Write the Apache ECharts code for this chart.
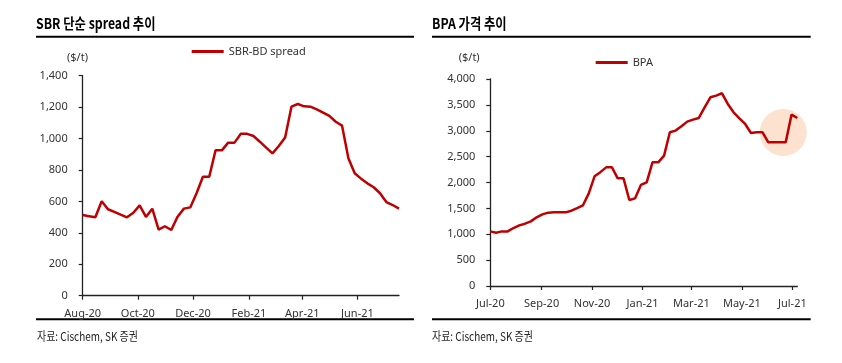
<!DOCTYPE html>
<html>
<head>
<meta charset="utf-8">
<script src="https://cdn.jsdelivr.net/npm/echarts@6/dist/echarts.min.js"></script>
<style>
html,body{margin:0;padding:0;background:#fff;}
#c{width:842px;height:363px;}
</style>
</head>
<body>
<div id="c"></div>
<script>
// ---- Data ----
const sbrDates = ['2020-08-01','2020-08-08','2020-08-15','2020-08-22','2020-08-29','2020-09-05','2020-09-12','2020-09-19','2020-09-26','2020-10-03','2020-10-10','2020-10-17','2020-10-24','2020-10-31','2020-11-07','2020-11-14','2020-11-21','2020-11-28','2020-12-05','2020-12-12','2020-12-19','2020-12-26','2021-01-02','2021-01-09','2021-01-16','2021-01-23','2021-01-30','2021-02-06','2021-02-13','2021-02-20','2021-02-27','2021-03-06','2021-03-13','2021-03-20','2021-03-27','2021-04-03','2021-04-10','2021-04-17','2021-04-24','2021-05-01','2021-05-08','2021-05-15','2021-05-22','2021-05-29','2021-06-05','2021-06-12','2021-06-19','2021-06-26','2021-07-03','2021-07-10','2021-07-17'];
const sbrSpread = [513,506,499,601,550,533,516,499,528,575,501,554,420,442,418,503,554,562,652,757,757,925,925,974,974,1030,1030,1016,980,942,906,953,1006,1203,1220,1205,1203,1186,1165,1144,1107,1082,875,779,745,715,690,652,596,577,554];
const sbrTickDates = ['2020-08-01','2020-10-01','2020-12-01','2021-02-01','2021-04-01','2021-06-01'];
const sbrTickLabels = ['Aug-20','Oct-20','Dec-20','Feb-21','Apr-21','Jun-21'];

const bpaDates = ['2020-07-01','2020-07-08','2020-07-15','2020-07-22','2020-07-29','2020-08-05','2020-08-12','2020-08-19','2020-08-26','2020-09-02','2020-09-09','2020-09-16','2020-09-23','2020-09-30','2020-10-07','2020-10-14','2020-10-21','2020-10-28','2020-11-04','2020-11-11','2020-11-18','2020-11-25','2020-12-02','2020-12-09','2020-12-16','2020-12-23','2020-12-30','2021-01-06','2021-01-13','2021-01-20','2021-01-27','2021-02-03','2021-02-10','2021-02-17','2021-02-24','2021-03-03','2021-03-10','2021-03-17','2021-03-24','2021-03-31','2021-04-07','2021-04-14','2021-04-21','2021-04-28','2021-05-05','2021-05-12','2021-05-19','2021-05-26','2021-06-02','2021-06-09','2021-06-16','2021-06-23','2021-06-30','2021-07-07'];
const bpaPrice = [1055,1030,1055,1055,1120,1172,1204,1249,1327,1384,1417,1423,1423,1423,1455,1505,1560,1790,2120,2200,2293,2293,2080,2080,1662,1694,1952,2003,2390,2390,2519,2970,3003,3086,3176,3215,3247,3453,3646,3679,3724,3518,3356,3240,3131,2957,2970,2970,2776,2776,2776,2776,3311,3247];
const bpaTickDates = ['2020-07-01','2020-09-01','2020-11-01','2021-01-01','2021-03-01','2021-05-01','2021-07-01'];
const bpaTickLabels = ['Jul-20','Sep-20','Nov-20','Jan-21','Mar-21','May-21','Jul-21'];
const bpaHighlight = ['2021-06-20', 2967];

const leftTitle = 'SBR 단순 spread 추이';
const rightTitle = 'BPA 가격 추이';
const sourceText = '자료: Cischem, SK 증권';
const unitText = '($/t)';
const sbrName = 'SBR-BD spread';
const bpaName = 'BPA';

// ---- Helpers ----
function ts(s){ const p = s.split('-').map(Number); return Date.UTC(p[0], p[1]-1, p[2]); }
function comma(v){ return String(v).replace(/\B(?=(\d{3})+(?!\d))/g, ','); }
function labelFor(dates, labels){
  const t = dates.map(ts);
  return function(v){ const i = t.indexOf(v); return i >= 0 ? labels[i] : ''; };
}

const RED = '#c00000';
const AX = '#222';
const FONT = '"Noto Sans", "Noto Sans CJK KR", sans-serif';
const LBL = {color:'#333', fontSize:11, fontFamily:FONT};

function xAxisCfg(grid, dates, tickDates, tickLabels, margin){
  return {
    type:'value', gridIndex:grid, scale:true,
    min: ts(dates[0]), max: ts(dates[dates.length-1]),
    axisLine:{show:true, onZero:false, lineStyle:{color:AX, width:1.3}},
    axisTick:{show:true, length:4, lineStyle:{color:AX, width:1.2}, customValues: tickDates.map(ts)},
    axisLabel:Object.assign({margin:margin, customValues: tickDates.map(ts), formatter: labelFor(tickDates, tickLabels), hideOverlap:false}, LBL),
    splitLine:{show:false}
  };
}
function yAxisCfg(grid, max, interval){
  return {
    type:'value', gridIndex:grid, min:0, max:max, interval:interval,
    axisLine:{show:true, lineStyle:{color:AX, width:1.3}},
    axisTick:{show:true, length:4, lineStyle:{color:AX, width:1.2}},
    axisLabel:Object.assign({margin:15, formatter: comma}, LBL),
    splitLine:{show:false}
  };
}

const chart = echarts.init(document.getElementById('c'), null, {renderer:'canvas'});
chart.setOption({
  animation:false,
  backgroundColor:'#fff',
  grid:[
    {left:82.7, right:443, top:75.7, bottom:67.3},
    {left:490.3, right:44.7, top:79, bottom:77}
  ],
  xAxis:[
    xAxisCfg(0, sbrDates, sbrTickDates, sbrTickLabels, 13),
    xAxisCfg(1, bpaDates, bpaTickDates, bpaTickLabels, 12)
  ],
  yAxis:[
    yAxisCfg(0, 1400, 200),
    yAxisCfg(1, 4000, 500)
  ],
  legend:[
    {data:[sbrName], left:191.7, top:46, padding:0, itemWidth:32, itemHeight:3, icon:'rect', itemGap:5,
     textStyle:{color:'#333', fontSize:11, fontFamily:FONT}},
    {data:[bpaName], left:595.7, top:57, padding:0, itemWidth:32, itemHeight:3, icon:'rect', itemGap:5,
     textStyle:{color:'#333', fontSize:11, fontFamily:FONT}}
  ],
  series:[
    {name:sbrName, type:'line', xAxisIndex:0, yAxisIndex:0, showSymbol:false, symbol:'none',
     lineStyle:{color:RED, width:2.5}, itemStyle:{color:RED},
     data: sbrDates.map((d,i)=>[ts(d), sbrSpread[i]]), z:3},
    {name:'highlight', type:'scatter', xAxisIndex:1, yAxisIndex:1, symbolSize:47,
     itemStyle:{color:'#fce2cf', opacity:1}, silent:true,
     data:[[ts(bpaHighlight[0]), bpaHighlight[1]]], z:1},
    {name:bpaName, type:'line', xAxisIndex:1, yAxisIndex:1, showSymbol:false, symbol:'none',
     lineStyle:{color:RED, width:2.5}, itemStyle:{color:RED},
     data: bpaDates.map((d,i)=>[ts(d), bpaPrice[i]]), z:3}
  ],
  graphic:[
    {type:'text', x:36, y:23, scaleX:0.82, style:{text:leftTitle, fill:'#000', verticalAlign:'middle', font:'bold 15px "Noto Sans CJK KR", sans-serif'}},
    {type:'text', x:432, y:23, scaleX:0.82, style:{text:rightTitle, fill:'#000', verticalAlign:'middle', font:'bold 15px "Noto Sans CJK KR", sans-serif'}},
    {type:'line', shape:{x1:36, y1:36.7, x2:414, y2:36.7}, style:{stroke:'#000', lineWidth:2}},
    {type:'line', shape:{x1:432, y1:36.7, x2:810.7, y2:36.7}, style:{stroke:'#000', lineWidth:2}},
    {type:'line', shape:{x1:36, y1:319.3, x2:414, y2:319.3}, style:{stroke:'#000', lineWidth:2}},
    {type:'line', shape:{x1:432, y1:319.3, x2:810.7, y2:319.3}, style:{stroke:'#000', lineWidth:2}},
    {type:'text', x:67, y:57.7, style:{text:unitText, fill:'#333', verticalAlign:'middle', font:'11px "Noto Sans", sans-serif'}},
    {type:'text', x:458.7, y:57.7, style:{text:unitText, fill:'#333', verticalAlign:'middle', font:'11px "Noto Sans", sans-serif'}},
    {type:'text', x:37, y:336.7, scaleX:0.83, style:{text:sourceText, fill:'#222', verticalAlign:'middle', font:'12px "Noto Sans CJK KR", sans-serif'}},
    {type:'text', x:432, y:336.7, scaleX:0.83, style:{text:sourceText, fill:'#222', verticalAlign:'middle', font:'12px "Noto Sans CJK KR", sans-serif'}}
  ]
});
</script>
</body>
</html>
